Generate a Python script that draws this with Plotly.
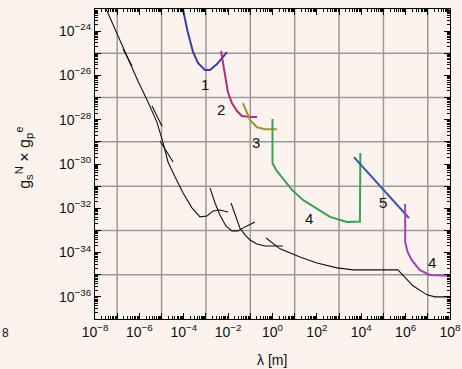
import numpy as np
import plotly.graph_objects as go

# ---- data (log10 values) ----
# black reference curves: log10(lambda [m]), log10(coupling)
blackA_x = [-7.52, -7.10, -6.65, -6.06, -5.61, -5.21, -4.94, -4.71, -4.39, -4.03, -3.63, -3.27, -2.95, -2.68, -2.37, -2.01]
blackA_y = [-22.95, -23.91, -24.95, -26.26, -27.20, -28.11, -29.01, -29.91, -30.59, -31.31, -31.98, -32.39, -32.35, -32.12, -32.08, -32.17]
blackB_x = [-2.82, -2.59, -2.37, -2.10, -1.83, -1.56, -1.24, -0.79]
blackB_y = [-31.08, -31.76, -32.30, -32.80, -33.02, -33.02, -32.84, -32.62]
blackC_x = [-1.87, -1.65, -1.47, -1.24, -1.01, -0.70, -0.34, 0.47]
blackC_y = [-31.76, -32.39, -32.89, -33.20, -33.43, -33.61, -33.70, -33.70]
blackD_x = [-0.29, 0.20, 0.34, 1.24, 2.00, 2.91, 3.63, 5.65, 5.88, 6.33, 6.96, 7.32, 8.0]
blackD_y = [-33.34, -33.70, -33.83, -34.20, -34.47, -34.69, -34.78, -34.78, -35.01, -35.50, -35.91, -36.00, -36.00]
seg1_x = [-6.74, -6.33]; seg1_y = [-24.81, -25.58]
seg2_x = [-5.43, -4.98]; seg2_y = [-27.38, -28.29]
seg3_x = [-5.07, -4.48]; seg3_y = [-28.96, -29.91]

c1_x = [-4.04, -3.85, -3.58, -3.36, -3.04, -2.82, -2.50, -2.05]
c1_y = [-22.97, -23.91, -24.95, -25.44, -25.76, -25.76, -25.49, -24.95]
c2_x = [-2.32, -2.19, -2.01, -1.83, -1.60, -1.38, -1.01, -0.70]
c2_y = [-24.90, -25.76, -26.75, -27.25, -27.61, -27.83, -27.88, -27.88]
c3_x = [-1.33, -1.01, -0.70, -0.34, 0.20]
c3_y = [-27.25, -28.02, -28.34, -28.43, -28.43]
c4_x = [0.0, 0.0, 0.16, 0.34, 0.88, 1.37, 2.00, 2.59, 3.36, 3.72, 3.94, 3.96]
c4_y = [-27.97, -29.95, -30.27, -30.50, -31.17, -31.62, -32.03, -32.39, -32.62, -32.62, -32.60, -29.50]
c5_x = [3.67, 6.15]
c5_y = [-29.69, -32.44]
c4b_x = [5.98, 5.98, 6.09, 6.27, 6.63, 7.08, 7.98]
c4b_y = [-31.81, -33.52, -33.97, -34.33, -34.78, -35.01, -35.05]

label_text = ["1", "2", "3", "4", "5", "4"]
label_x = [-3.04, -2.32, -0.74, 1.64, 4.98, 7.19]
label_y = [-26.43, -27.56, -29.01, -32.48, -31.76, -34.47]

x_exp = list(range(-8, 9))
y_exp = list(range(-37, -22))

BG = "#fdf3ee"
fig = go.Figure()

def add(xs, ys, color, width):
    fig.add_trace(go.Scatter(x=10 ** np.array(xs, float), y=10 ** np.array(ys, float),
                             mode="lines", line=dict(color=color, width=width),
                             showlegend=False, hoverinfo="skip"))

for xs, ys in [(blackA_x, blackA_y), (blackB_x, blackB_y), (blackC_x, blackC_y),
               (blackD_x, blackD_y), (seg1_x, seg1_y), (seg2_x, seg2_y), (seg3_x, seg3_y)]:
    add(xs, ys, "#111111", 1.1)
add(c1_x, c1_y, "#3a3caa", 2)
add(c2_x, c2_y, "#a8307c", 2)
add(c3_x, c3_y, "#a39434", 2)
add(c4_x, c4_y, "#3aa055", 2)
add(c5_x, c5_y, "#3858a8", 2)
add(c4b_x, c4b_y, "#a443b4", 2)

# gridlines
grid_col = "#9a9a9a"
for e in x_exp[1:-1:2]:
    fig.add_shape(type="line", xref="x", yref="paper", x0=10.0 ** e, x1=10.0 ** e, y0=0, y1=1,
                  line=dict(color=grid_col, width=1.5), layer="below")
for e in y_exp[2:-1:2]:
    fig.add_shape(type="line", xref="paper", yref="y", x0=0, x1=1, y0=10.0 ** e, y1=10.0 ** e,
                  line=dict(color=grid_col, width=1.5), layer="below")

for t, lx, ly in zip(label_text, label_x, label_y):
    fig.add_annotation(x=lx, y=ly, xref="x", yref="y", text=t, showarrow=False,
                       font=dict(size=15, color="#111"))

# plot area: x 95..450 px, y 9..319 px
fig.add_annotation(x=0.4986, y=-0.132, xref="paper", yref="paper", text="λ [m]", showarrow=False,
                   xanchor="center", yanchor="middle", font=dict(size=14, color="#111"))
fig.add_annotation(xref="paper", yref="paper", x=-0.2, y=0.52,
                   text="g<sub>s</sub><sup>N</sup> × g<sub>p</sub><sup>e</sup>",
                   xanchor="center", yanchor="middle",
                   textangle=-90, showarrow=False, font=dict(size=16, color="#111"))
fig.add_annotation(xref="paper", yref="paper", x=-0.2535, y=-0.045, text="8", showarrow=False,
                   xanchor="center", yanchor="middle", font=dict(size=12, color="#111"))

def sup(e):
    return "10<sup>" + ("−" if e < 0 else "") + str(abs(e)) + "</sup>"

fig.update_xaxes(type="log", range=[-8, 8], tickmode="array", automargin=False,
                 tickvals=[10.0 ** e for e in x_exp],
                 ticktext=[sup(e) if e % 2 == 0 else "" for e in x_exp],
                 ticks="inside", ticklen=6, tickcolor="#000", mirror="allticks",
                 showline=True, linecolor="#000", linewidth=1.2, showgrid=False, zeroline=False,
                 minor=dict(ticks="inside", ticklen=3, dtick="D1", tickcolor="#000", showgrid=False),
                 tickfont=dict(family="Liberation Sans, Arial", size=14, color="#111"))
fig.update_yaxes(type="log", range=[-37, -23], tickmode="array", automargin=False,
                 tickvals=[10.0 ** e for e in y_exp],
                 ticktext=[sup(e) if e % 2 == 0 else "" for e in y_exp],
                 ticks="inside", ticklen=6, tickcolor="#000", mirror="allticks",
                 showline=True, linecolor="#000", linewidth=1.2, showgrid=False, zeroline=False,
                 minor=dict(ticks="inside", ticklen=3, dtick="D1", tickcolor="#000", showgrid=False),
                 tickfont=dict(family="Liberation Sans, Arial", size=14, color="#111"))

fig.update_layout(width=462, height=369, paper_bgcolor=BG, plot_bgcolor=BG,
                  margin=dict(l=95, r=12, t=9, b=50), showlegend=False,
                  font=dict(family="Liberation Sans, Arial", color="#111"))
fig.write_html("out.html", config={"displayModeBar": False},
               post_script="document.body.style.margin='0';document.body.style.background='" + BG + "';")
